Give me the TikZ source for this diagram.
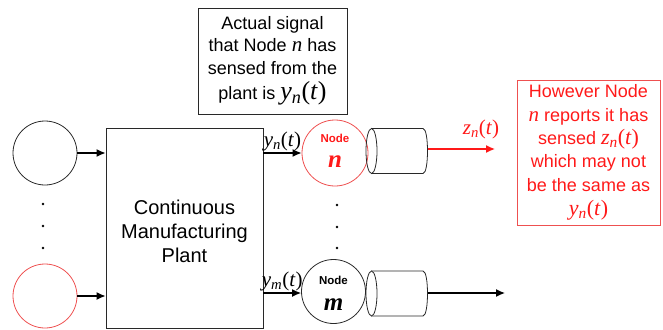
\documentclass[tikz,border=0pt]{standalone}
\usepackage{fontspec}
\setmainfont{Liberation Sans}
\newfontfamily\tms{Liberation Serif}
\usetikzlibrary{arrows.meta,positioning,calc}

\definecolor{alarm}{RGB}{255,25,25}
\definecolor{nodered}{RGB}{238,80,80}
\definecolor{edge}{RGB}{40,40,40}

% signal y_n(t) in a Times like italic
\newcommand{\sig}[2]{{\tms\itshape #1\/}\textsubscript{\tms\itshape #2}{\tms(\textit{t})}}

\tikzset{
	sensor/.style={circle,draw=edge,line width=0.8pt,minimum size=64pt,inner sep=0pt},
	link/.style={-{Latex[length=9pt,width=8pt]},line width=1.3pt},
	nodelbl/.style={anchor=base,font=\bfseries\fontsize{11.5}{12}\selectfont},
	nodeid/.style={anchor=base,font=\tms\bfseries\itshape\fontsize{25}{25}\selectfont},
	siglbl/.style={font=\fontsize{21}{21}\selectfont},
}

\begin{document}
\begin{tikzpicture}[x=1pt,y=-1pt]
		\useasboundingbox (0,0) rectangle (663,329);
		% sources on the left
		\node[sensor] (src1) at (45,153) {};
		\node[sensor,draw=nodered] (src2) at (45,296) {};
		\foreach \y in {204,226,248} \fill (43,\y) circle (1.4);
		% plant
		\node[draw=edge,line width=0.8pt,minimum width=157pt,minimum height=200pt,inner sep=0pt] (plant) at (184.5,228) {};
		\node[align=center,font=\fontsize{20}{24}\selectfont] (plantlbl) at (184.5,231) {Continuous\\Manufacturing\\Plant};
		\draw[link] (src1.east) -- (src1.east -| plant.west);
		\draw[link] (src2.east) -- (src2.east -| plant.west);
		% note above
		\node[draw=edge,line width=0.8pt,minimum width=149pt,minimum height=106pt,inner sep=0pt,align=center,
			font=\fontsize{18}{22.5}\selectfont] (note) at (272.5,61)
			{Actual signal\\that Node {\fontsize{21}{21}\tms\itshape n} has\\sensed from the\\[3pt]plant is {\fontsize{26}{26}\selectfont\sig yn}};
		% node n
		\node[sensor,draw=nodered,minimum size=66pt] (noden) at (335,153) {};
		\node[nodelbl,text=alarm] at (335,142) {Node};
		\node[nodeid,text=alarm] at (335,167) {n};
		% node m
		\node[sensor] (nodem) at (333.5,291.5) {};
		\node[nodelbl] at (333.5,284) {Node};
		\node[nodeid] at (333.5,310) {m};
		\foreach \y in {205,227,248} \fill (337,\y) circle (1.4);
		\draw[link] (plant.east |- noden) -- (noden.west) node[midway,above=-2pt,siglbl] {\sig yn};
		\draw[link] (plant.east |- 0,293) -- (nodem.west |- 0,293) node[midway,above=-2pt,siglbl] {\sig ym};
		% cylinders
		\foreach \y in {151,293.5}{
			\draw[edge,line width=0.8pt] (371.5,\y) ellipse (5.5 and 22.5);
			\draw[edge,line width=0.8pt] (371.5,\y-22.5) -- (423,\y-22.5) .. controls (429,\y-22.5) and (429,\y+22.5) .. (423,\y+22.5) -- (371.5,\y+22.5);
		}
		\coordinate (cylN) at (427.5,149);
		\coordinate (cylM) at (427.5,293);
		\coordinate (outN) at (495,149);
		\coordinate (outM) at (505,293);
		\draw[link,alarm] (cylN) -- (outN);
		\draw[link] (cylM) -- (outM);
		\node[text=alarm,siglbl] (zlbl) at (481,129) {\sig zn};
		% claim of node n
		\node[draw=nodered,line width=0.8pt,minimum width=143pt,minimum height=145pt,inner sep=0pt,align=center,text=alarm,
			font=\fontsize{18}{23.4}\selectfont] (claim) at (588.5,152.5)
			{However Node\\{\fontsize{21}{21}\tms\itshape n} reports it has\\sensed {\fontsize{22}{22}\selectfont\sig zn}\\which may not\\be the same as\\[1pt]{\fontsize{22}{22}\selectfont\sig yn}};
	\end{tikzpicture}
\end{document}
